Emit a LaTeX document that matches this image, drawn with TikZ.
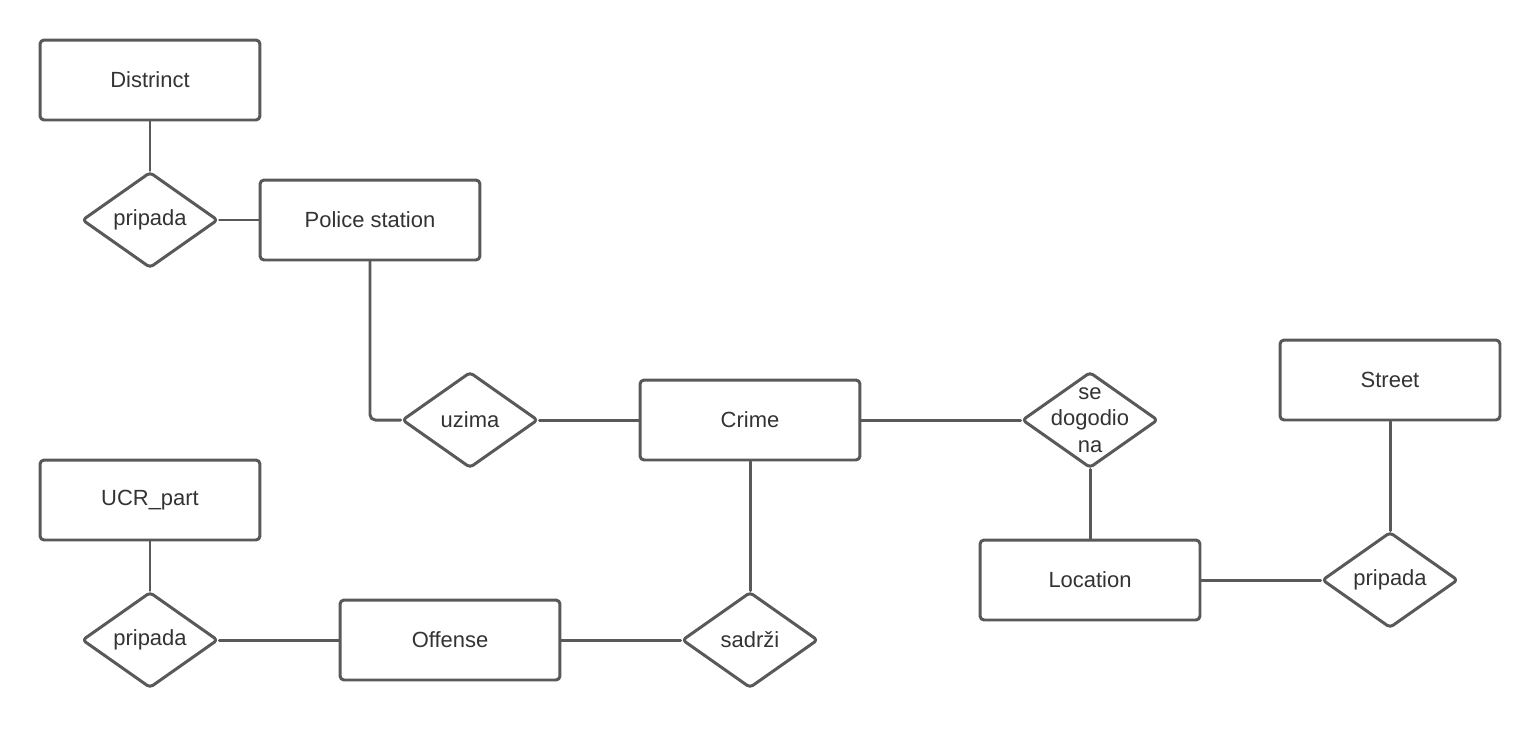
\documentclass[tikz,border=0pt]{standalone}
\usepackage{fontspec}
\setmainfont{Liberation Sans}
\usetikzlibrary{shapes.geometric}
\definecolor{linegray}{rgb}{0.35,0.35,0.35}
\definecolor{textgray}{rgb}{0.2,0.2,0.2}

\begin{document}
\begin{tikzpicture}[x=0.02cm,y=-0.02cm,line cap=round,line join=round,
  entity/.style={draw=linegray,line width=1.7pt,rounded corners=2.3pt,minimum width=4.4cm,minimum height=1.6cm,text=textgray,font=\fontsize{12.5}{15}\selectfont},
  relation/.style={draw=linegray,line width=1.7pt,rounded corners=2pt,shape=diamond,inner sep=0pt,minimum width=2.72cm,minimum height=1.92cm},
  reltext/.style={text=textgray,font=\fontsize{12.5}{15}\selectfont,align=center},
  link/.style={draw=linegray,line width=1.7pt}]
\useasboundingbox (0,0) rectangle (1540,730);
\fill[white] (0,0) rectangle (1540,730);
\node[entity] (district) at (150,80) {Distrinct};
\node[entity] (police) at (370,220) {Police station};
\node[entity] (crime) at (750,420) {Crime};
\node[entity] (ucr) at (150,500) {UCR\_part};
\node[entity] (offense) at (450,640) {Offense};
\node[entity] (location) at (1090,580) {Location};
\node[entity] (street) at (1390,380) {Street};
\node[relation,label={[reltext]center:pripada}] (pripadaA) at (150,220) {};
\node[relation,label={[reltext]center:uzima}] (uzima) at (470,420) {};
\node[relation,label={[reltext]center:{se\\dogodio\\na}}] (sedog) at (1090,420) {};
\node[relation,label={[reltext]center:pripada}] (pripadaB) at (150,640) {};
\node[relation,label={[reltext]center:sadrži}] (sadrzi) at (750,640) {};
\node[relation,label={[reltext]center:pripada}] (pripadaC) at (1390,580) {};
\draw[link] (district) -- (pripadaA);
\draw[link] (pripadaA) -- (police);
\draw[link,rounded corners=3pt] (police.south) |- (uzima.west);
\draw[link] (uzima) -- (crime);
\draw[link] (crime) -- (sedog);
\draw[link] (sedog) -- (location);
\draw[link] (location) -- (pripadaC);
\draw[link] (pripadaC) -- (street);
\draw[link] (crime) -- (sadrzi);
\draw[link] (sadrzi) -- (offense);
\draw[link] (offense) -- (pripadaB);
\draw[link] (pripadaB) -- (ucr);
\end{tikzpicture}
\end{document}
